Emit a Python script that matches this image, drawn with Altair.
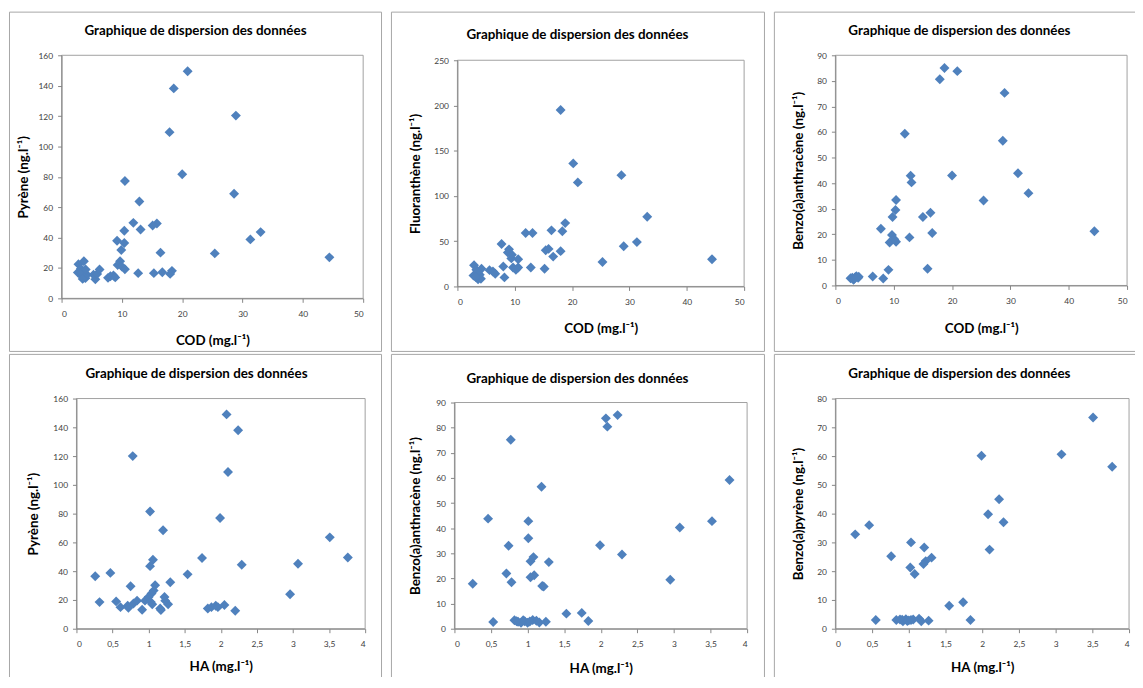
import altair as alt
import pandas as pd

# ---------------- data ----------------
# Panel 1 : COD vs Pyrène
p1_x = [20.9, 18.6, 28.9, 17.9, 20.0, 10.5, 28.6, 12.9, 11.9, 15.8, 15.1, 10.4, 13.1, 33.0, 31.3,
        9.2, 10.4, 9.9, 16.4, 25.4, 44.4, 9.7, 9.3, 10.0, 10.5, 12.7, 15.3, 16.7, 18.3, 18.0,
        2.8, 3.7, 2.7, 3.2, 3.4, 3.3, 3.95, 4.2, 5.3, 5.6, 5.9, 6.3, 7.7, 8.1, 8.6, 8.9, 3.5, 4.0]
p1_y = [149.5, 138.2, 120.3, 109.4, 81.7, 77.2, 68.9, 63.7, 49.7, 49.3, 48.0, 44.5, 45.3, 43.6, 38.8,
        37.9, 36.4, 31.8, 30.1, 29.6, 27.0, 24.4, 22.0, 20.9, 19.2, 16.6, 16.6, 17.2, 18.1, 16.1,
        22.5, 24.4, 17.0, 19.5, 14.4, 16.5, 13.3, 15.5, 15.5, 12.5, 16.0, 19.0, 13.5, 14.5, 15.0, 13.8, 12.8, 19.0]

# Panel 2 : COD vs Fluoranthène
p2_x = [18.0, 20.2, 28.6, 21.0, 33.1, 18.8, 16.4, 18.3, 11.9, 13.1, 7.7, 31.3, 29.0, 9.0, 8.8,
        15.4, 15.9, 18.0, 9.4, 10.6, 16.7, 44.4, 25.3, 8.0, 8.2, 12.8, 15.2, 9.7, 10.2, 10.6,
        2.9, 3.3, 2.8, 3.6, 4.1, 3.9, 4.2, 3.5, 5.6, 6.2, 6.6, 3.2, 9.5]
p2_y = [195, 136, 123, 115, 77, 70, 62, 61, 59, 59, 47, 49, 44.5, 41, 37.5,
        40, 41.5, 39, 31, 30, 33, 30, 27, 22, 10, 21, 19.5, 21, 18.5, 21,
        23.5, 18.5, 12, 8, 8.5, 13, 19.5, 16, 18, 16.5, 14, 10.5, 35]

# Panel 3 : COD vs Benzo(a)anthracène
p3_x = [18.7, 20.9, 17.9, 29.0, 11.9, 28.7, 12.9, 13.05, 20.0, 31.3, 33.1, 25.4, 10.4, 10.3, 9.8,
        15.0, 16.3, 16.6, 7.8, 9.7, 9.3, 10.4, 10.1, 12.7, 44.4, 9.1, 15.8, 6.4, 8.2,
        2.6, 2.9, 3.2, 3.4, 3.6, 3.9, 3.1, 4.0]
p3_y = [85.0, 83.8, 80.6, 75.3, 59.3, 56.6, 42.9, 40.3, 43.0, 43.9, 36.1, 33.2, 33.4, 29.5, 26.8,
        26.8, 28.4, 20.5, 22.2, 19.7, 16.8, 17.1, 18.1, 18.8, 21.2, 6.1, 6.5, 3.5, 2.7,
        2.8, 3.0, 2.5, 3.2, 3.6, 3.0, 2.2, 3.4]

# Panel 4 : HA vs Pyrène
p4_x = [2.08, 2.24, 0.78, 2.10, 1.02, 1.99, 1.20, 3.51, 3.76, 1.74, 1.06, 1.02, 2.29, 3.07, 1.54,
        0.47, 0.26, 1.30, 0.75, 1.09, 2.96, 1.07, 1.04, 1.22, 0.32, 0.55, 0.61, 0.71, 0.72, 0.79,
        0.84, 0.91, 0.95, 1.00, 1.03, 1.05, 1.16, 1.17, 1.27, 1.23, 1.82, 1.87, 1.93, 1.96, 2.05, 2.20]
p4_y = [149, 138, 120, 109, 81.5, 77, 68.5, 63.5, 49.5, 49.2, 48, 43.5, 44.5, 45.2, 37.8,
        38.8, 36.5, 32.3, 29.5, 30.2, 24.0, 26.5, 24.5, 22.0, 18.5, 19.0, 15.0, 16.0, 14.5, 17.5,
        19.5, 13.2, 19.5, 22.0, 18.5, 17.0, 14.0, 13.0, 17.0, 19.5, 14.0, 15.0, 16.0, 15.0, 16.5, 12.5]

# Panel 5 : HA vs Benzo(a)anthracène
p5_x = [2.23, 2.07, 2.09, 0.77, 3.76, 1.19, 0.46, 1.01, 3.52, 3.08, 1.01, 0.74, 1.99, 2.29, 1.08,
        1.04, 1.29, 0.71, 1.09, 1.04, 0.78, 0.25, 1.20, 1.22, 2.95, 0.53, 1.53, 1.74, 1.83,
        0.82, 0.87, 0.91, 0.96, 1.00, 1.07, 1.12, 1.16, 1.25, 0.85, 0.94, 1.03]
p5_y = [85, 83.7, 80.4, 75.2, 59.2, 56.5, 43.8, 42.8, 42.8, 40.3, 36.0, 33.0, 33.2, 29.5, 28.5,
        26.8, 26.5, 22.0, 21.3, 20.5, 18.5, 17.9, 17.0, 16.8, 19.5, 2.7, 6.0, 6.3, 3.1,
        3.4, 2.8, 2.4, 3.0, 2.4, 3.5, 3.2, 2.5, 2.8, 3.0, 3.4, 2.9]

# Panel 6 : HA vs Benzo(a)pyrène
p6_x = [3.51, 3.08, 1.99, 3.77, 2.23, 2.08, 2.29, 0.46, 0.27, 1.03, 1.21, 2.10, 0.76, 1.31, 1.23,
        1.20, 1.02, 1.08, 1.74, 1.55, 0.55, 1.84, 0.83, 0.88, 0.92, 0.96, 1.00, 1.06, 1.14, 1.17,
        1.27, 0.91, 0.98, 1.03]
p6_y = [73.4, 60.6, 60.1, 56.3, 45.0, 39.8, 37.0, 36.0, 32.8, 30.0, 28.2, 27.5, 25.2, 24.7, 23.5,
        22.5, 21.3, 19.0, 9.2, 8.0, 3.0, 3.0, 3.0, 3.2, 2.6, 3.3, 2.9, 3.2, 3.5, 2.6,
        2.8, 3.1, 2.7, 3.0]

CHART_TITLE = "Graphique de dispersion des données"
X_COD = "COD (mg.l⁻¹)"
X_HA = "HA (mg.l⁻¹)"
Y_TITLES = ["Pyrène (ng.l⁻¹)", "Fluoranthène (ng.l⁻¹)", "Benzo(a)anthracène (ng.l⁻¹)",
            "Pyrène (ng.l⁻¹)", "Benzo(a)anthracène (ng.l⁻¹)", "Benzo(a)pyrène (ng.l⁻¹)"]
COD_TICKS = [0, 10, 20, 30, 40, 50]
HA_TICKS = [0, 0.5, 1, 1.5, 2, 2.5, 3, 3.5, 4]

# ---------------- styling / layout ----------------
BLUE = "#4F81BD"
FONT = "Lato"
AXIS_GRAY = "#868686"
PLOT_BORDER = "#a0a0a0"
FRAME_GRAY = "#a6a6a6"

# geometry in page pixels: plot (l, r, t, b), frame (l, r, t, b), title centre (x, y),
# x-title centre y, y-title centre x
GEO = [
    dict(plot=(61, 365, 52, 297), frame=(8, 383, 8, 350), title=(196, 28), xt=340, yt=23),
    dict(plot=(459, 748, 57, 285), frame=(392, 768, 8, 350), title=(580, 32), xt=327, yt=417),
    dict(plot=(839, 1133, 52, 284), frame=(777, 1151, 8, 350), title=(964, 28), xt=327, yt=802),
    dict(plot=(76, 367, 397, 629), frame=(8, 383, 352, 694), title=(197, 372), xt=667, yt=33),
    dict(plot=(456, 751, 401, 629), frame=(392, 768, 352, 694), title=(580, 377), xt=669, yt=417),
    dict(plot=(839, 1135, 397, 629), frame=(777, 1151, 352, 694), title=(964, 372), xt=668, yt=802),
]


def panel(xs, ys, xdom, xticks, ydom, yticks, xtitle, ytitle, geo, comma):
    pl, pr, pt, pb = geo["plot"]
    fl, fr, ft, fb = geo["frame"]
    FW, FH = fr - fl, fb - ft
    x0, x1, y0, y1 = pl - fl, pr - fl, pt - ft, pb - ft
    df = pd.DataFrame({"x": xs, "y": ys})
    one = pd.DataFrame({"k": [0]})

    xaxis_kw = dict(values=xticks, title=xtitle, grid=False, tickSize=4, labelPadding=7,
                    offset=y1 - FH, zindex=1,
                    titleX=(x0 + x1) / 2, titleY=geo["xt"] - pb, titleBaseline="middle",
                    titleAlign="center")
    if comma:
        xaxis_kw["labelExpr"] = "replace(format(datum.value, '~g'), '.', ',')"
    yaxis_kw = dict(values=yticks, title=ytitle, grid=False, tickSize=4, labelPadding=5,
                    offset=-x0, zindex=1,
                    titleX=geo["yt"] - pl, titleY=(y0 + y1) / 2, titleBaseline="middle",
                    titleAlign="center")

    border = alt.Chart(one).mark_rect(fillOpacity=0, stroke=PLOT_BORDER, strokeWidth=1).encode(
        x=alt.value(x0), x2=alt.value(x1), y=alt.value(y0), y2=alt.value(y1)
    )
    pts = alt.Chart(df).mark_point(shape="diamond", filled=True, size=100, color=BLUE, opacity=1).encode(
        x=alt.X("x:Q", scale=alt.Scale(domain=xdom, range=[x0, x1], nice=False), axis=alt.Axis(**xaxis_kw)),
        y=alt.Y("y:Q", scale=alt.Scale(domain=ydom, range=[y1, y0], nice=False), axis=alt.Axis(**yaxis_kw)),
    )
    title = alt.Chart(one).mark_text(text=CHART_TITLE, font=FONT, fontSize=13.5, fontWeight="bold",
                                     color="#000000", baseline="middle", align="center").encode(
        x=alt.value(geo["title"][0] - fl), y=alt.value(geo["title"][1] - ft)
    )
    return alt.layer(border, pts, title).properties(width=FW, height=FH)


charts = [
    panel(p1_x, p1_y, [0, 50], COD_TICKS, [0, 160], list(range(0, 161, 20)), X_COD, Y_TITLES[0], GEO[0], False),
    panel(p2_x, p2_y, [0, 50], COD_TICKS, [0, 250], list(range(0, 251, 50)), X_COD, Y_TITLES[1], GEO[1], False),
    panel(p3_x, p3_y, [0, 50], COD_TICKS, [0, 90], list(range(0, 91, 10)), X_COD, Y_TITLES[2], GEO[2], False),
    panel(p4_x, p4_y, [0, 4], HA_TICKS, [0, 160], list(range(0, 161, 20)), X_HA, Y_TITLES[3], GEO[3], True),
    panel(p5_x, p5_y, [0, 4], HA_TICKS, [0, 90], list(range(0, 91, 10)), X_HA, Y_TITLES[4], GEO[4], True),
    panel(p6_x, p6_y, [0, 4], HA_TICKS, [0, 80], list(range(0, 81, 10)), X_HA, Y_TITLES[5], GEO[5], True),
]

row1 = alt.hconcat(*charts[:3], spacing=8)
row2 = alt.hconcat(*charts[3:], spacing=8)
# negative right/bottom padding crops the outer frames at the window edge, as in the reference
chart = alt.vconcat(row1, row2, spacing=1).properties(
    padding={"left": 0, "top": 0, "right": -11, "bottom": -20}, background="white"
).configure_view(
    stroke=FRAME_GRAY, strokeWidth=1
).configure_axis(
    domainColor=AXIS_GRAY, tickColor=AXIS_GRAY, labelFont=FONT, labelFontSize=8.5, labelColor="#404040",
    titleFont=FONT, titleFontSize=13.5, titleFontWeight="bold", titleColor="#000000",
)

chart.save("out.html", embed_options={"renderer": "svg", "actions": False})
